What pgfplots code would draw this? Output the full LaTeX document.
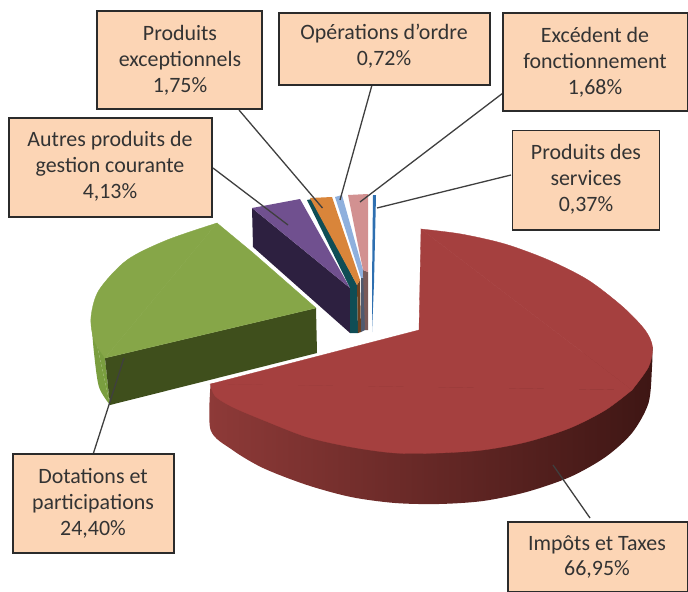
\documentclass[border=0pt]{standalone}
\usepackage{pgfplots}
\pgfplotsset{compat=1.18}
\usepackage{fontspec}
\setmainfont{Carlito}
\definecolor{boxfill}{HTML}{FCD5B5}
\definecolor{boxline}{HTML}{2B2B2B}
\definecolor{leader}{HTML}{3F3F3F}
\definecolor{redtop}{HTML}{A5403F}
\definecolor{greentop}{HTML}{86A648}
\definecolor{greenside}{HTML}{3F4F1C}
\definecolor{greenrim}{HTML}{7A9E3F}
\newcommand{\labelbox}[4]{%
  \addplot[fill=boxfill,draw=boxline,line width=1.9bp] coordinates {(#1,#3) (#2,#3) (#2,#4) (#1,#4)} --cycle;
}
\newcommand{\labeltext}[3]{%
  \node[align=center,text=black!80,font=\fontsize{22}{26}\selectfont] at (axis cs:#1,#2) {#3};
}
\begin{document}
\begin{tikzpicture}
\begin{axis}[
    scale only axis,
    width=688bp,
    height=592bp,
    xmin=0, xmax=688,
    ymin=0, ymax=592,
    y dir=reverse,
    axis line style={draw=none},
    ticks=none,
    clip=true
]
% red slice, rim first
\addplot[smooth,draw=none,left color={rgb,255:red,142;green,58;blue,56},middle color={rgb,255:red,100;green,38;blue,36},right color={rgb,255:red,62;green,22;blue,20}]
  coordinates {(210.6,384) (210.6,430) (232.5,450) (263,468) (307,485) (351,497) (395,503) (439,504)
    (483,501) (526.5,492) (570,477) (605.5,457) (632,433) (648.5,403) (652,367) (652.5,347)} --cycle;
\addplot[fill=redtop,draw=redtop,line width=0.3bp] coordinates {(419,330) (421,229) (632,390) (210.6,384)} --cycle;
\addplot[smooth,fill=redtop,draw=redtop,line width=0.3bp] coordinates {(421,229) (461,234) (505,244) (548.5,260) (588,280) (623,307)
    (645,330) (652.5,347) (648.5,367) (632,390)} --cycle;
\addplot[smooth,fill=redtop,draw=redtop,line width=0.3bp] coordinates {(632,390) (605.5,410) (570,428) (526.5,442) (483,450) (439,453)
    (395,453) (351,447) (307,437) (263,420) (232.5,407) (215,396) (210.6,384)} --cycle;
% green slice
\addplot[smooth,fill=greenrim,draw=none] coordinates {(91,317) (94,353) (99,387) (110,405)} --cycle;
\addplot[fill=greenrim,draw=none] coordinates {(91,317) (110,405) (105,358)} --cycle;
\addplot[fill=greenside,draw=none] coordinates {(105,358) (316,308) (317,353) (110,405)} --cycle;
\addplot[fill=greentop,draw=greentop,line width=0.3bp] coordinates {(217,223) (252,252) (316,308) (105,358)} --cycle;
\addplot[smooth,fill=greentop,draw=greentop,line width=0.3bp] coordinates {(217,223) (167,240) (127,260) (99,290) (91,317) (94,340) (105,358)} --cycle;
% purple
\addplot[fill={rgb,255:red,45;green,32;blue,64},draw=none] coordinates {(252,208) (350,288) (350,333) (253,247)} --cycle;
\addplot[fill={rgb,255:red,112;green,80;blue,143},draw=none] coordinates {(252,208) (300,199) (350,288)} --cycle;
% teal
\addplot[fill={rgb,255:red,15;green,77;blue,85},draw=none] coordinates {(307,200) (312,199) (357,285) (358,333) (350,333) (350,288)} --cycle;
% orange
\addplot[fill={rgb,255:red,106;green,64;blue,32},draw=none] coordinates {(357,285) (360,280) (361,332) (358,333)} --cycle;
\addplot[fill={rgb,255:red,217;green,133;blue,58},draw=none] coordinates {(310,198) (332,197) (360,280) (357,285)} --cycle;
% light blue
\addplot[fill={rgb,255:red,80;green,90;blue,110},draw=none] coordinates {(361,278) (365,277) (365,330) (361,332)} --cycle;
\addplot[fill={rgb,255:red,143;green,176;blue,221},draw=none] coordinates {(335,197) (342,195) (365,277) (361,278)} --cycle;
% pink
\addplot[fill={rgb,255:red,122;green,90;blue,88},draw=none] coordinates {(363,270) (368,272) (368,330) (365,330)} --cycle;
\addplot[fill={rgb,255:red,210;green,145;blue,145},draw=none] coordinates {(348,195) (368,194) (368,272) (363,270)} --cycle;
% blue
\addplot[fill={rgb,255:red,46;green,111;blue,176},draw=none] coordinates {(373,195) (376,195) (374,283) (372,332) (372,283)} --cycle;
% leader lines
\addplot[draw=leader,line width=1.3bp] coordinates {(239,110) (322.5,208)};
\addplot[draw=leader,line width=1.3bp] coordinates {(372,85) (340,200)};
\addplot[draw=leader,line width=1.3bp] coordinates {(503,93) (360,202)};
\addplot[draw=leader,line width=1.3bp] coordinates {(511,175) (377,208)};
\addplot[draw=leader,line width=1.3bp] coordinates {(213,168) (288,225)};
\addplot[draw=leader,line width=1.3bp] coordinates {(93.5,453) (124,358)};
\addplot[draw=leader,line width=1.3bp] coordinates {(590,518) (553,465)};
% label boxes
\labelbox{97}{262}{11}{109}
\labelbox{279}{490}{13}{85}
\labelbox{503}{688}{13}{111}
\labelbox{9}{212}{118}{217}
\labelbox{512.5}{659.5}{130.5}{230}
\labelbox{13}{174}{454}{553}
\labelbox{508}{688}{522}{592}
\labeltext{180}{60}{Produits\\exceptionnels\\1,75\%}
\labeltext{384}{46}{Opérations d'ordre\\0,72\%}
\labeltext{595}{62}{Excédent de\\fonctionnement\\1,68\%}
\labeltext{110}{166}{Autres produits de\\gestion courante\\4,13\%}
\labeltext{586}{179}{Produits des\\services\\0,37\%}
\labeltext{93}{503}{Dotations et\\participations\\24,40\%}
\labeltext{597}{557}{Impôts et Taxes\\66,95\%}
\end{axis}
\end{tikzpicture}
\end{document}
